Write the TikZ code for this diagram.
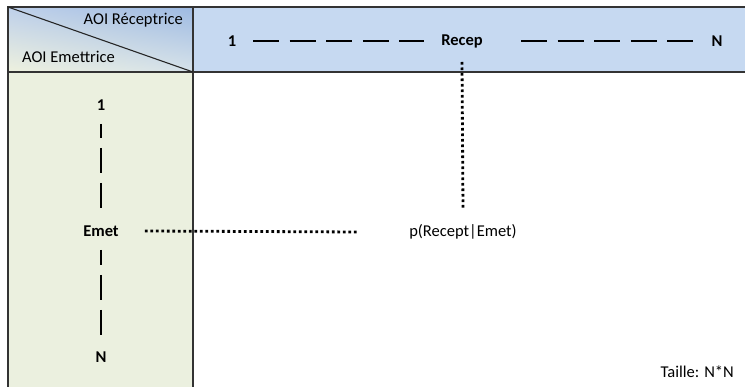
\documentclass[tikz,border=0pt]{standalone}
\usepackage{fontspec}
\setmainfont{Carlito}
\usetikzlibrary{shadings}
\definecolor{cul}{RGB}{190,208,234}
\definecolor{cur}{RGB}{158,186,226}
\definecolor{cll}{RGB}{238,241,222}
\definecolor{clr}{RGB}{214,226,234}
\definecolor{barblue}{RGB}{198,217,241}
\definecolor{colgreen}{RGB}{235,240,223}
\begin{document}
\begin{tikzpicture}[x=1pt,y=-1pt,
  frame/.style={draw=black!80,line width=1.1pt},
  lbl/.style={font=\fontsize{16.5}{18}\selectfont\bfseries,inner sep=1pt},
  txt/.style={font=\fontsize{16.5}{18}\selectfont,inner sep=1pt},
  dashline/.style={line width=2.8pt,dash pattern=on 26pt off 10.6pt},
  vdash/.style={line width=2.8pt,dash pattern=on 25pt off 10pt},
  dotline/.style={line width=2.8pt,dash pattern=on 2.7pt off 2.8pt}]
\useasboundingbox (0,0) rectangle (745,387);
\fill[white] (0,0) rectangle (745,387);
% header corner cell with gradient
\shade[upper left=cul, upper right=cur, lower left=cll, lower right=clr]
  (8,7) rectangle (193,72);
% top blue bar
\fill[barblue] (193,7) rectangle (746,72);
% left green column
\fill[colgreen] (8,72) rectangle (193,388);
% frames
\draw[frame] (8,388) -- (8,7) -- (746,7);
\draw[frame] (193,7) -- (193,388);
\draw[frame] (8,72) -- (746,72);
\draw[line width=1.1pt,black!85] (8,7) -- (193,72);
% header texts
\node[txt,anchor=east] (aoir) at (184,20) {AOI Réceptrice};
\node[txt,anchor=west] (aoie) at (21,57) {AOI Emettrice};
% top row
\node[lbl] (r1) at (232,41) {1};
\node[lbl] (recep) at (462,41) {Recep};
\node[lbl] (rN) at (717,41) {N};
\draw[dashline] (r1.center -| 253,0) -- (r1.center -| 424,0);
\draw[dashline] (rN.center -| 521,0) -- (rN.center -| 693,0);
% left column
\node[lbl] (e1) at (101,105) {1};
\node[lbl] (emet) at (101,231) {Emet};
\node[lbl] (eN) at (101,357) {N};
\draw[vdash,dash phase=11pt] (e1.south |- 0,124) -- (e1.south |- 0,210);
\draw[vdash,dash phase=10pt] (eN.north |- 0,250) -- (eN.north |- 0,338);
% probability
\node[txt] (p) at (463,232) {p(Recept|Emet)};
\coordinate (hend) at (359,232);
\draw[dotline] ([xshift=25pt]emet.east) -- (hend);
\draw[dotline] (recep.south |- 0,62) -- (p.north |- 0,210);
% size
\node[txt,anchor=east] (taille) at (735,372) {Taille: N*N};
\end{tikzpicture}
\end{document}
